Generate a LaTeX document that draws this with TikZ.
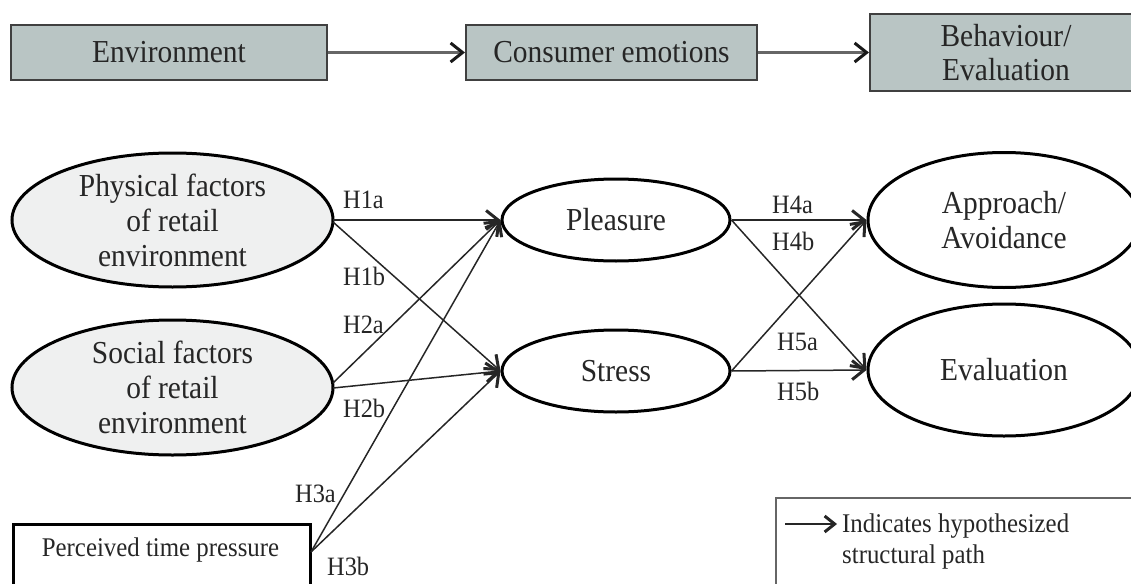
\documentclass[tikz,border=0pt]{standalone}
\usepackage{fontspec}
\setmainfont[FakeStretch=0.92]{Liberation Serif}
\usetikzlibrary{shapes.geometric,arrows.meta}
\definecolor{topfill}{HTML}{B9C5C4}
\definecolor{ellfill}{HTML}{EFF0F0}
\definecolor{txt}{HTML}{262626}
\begin{document}
\begin{tikzpicture}[x=1pt,y=-1pt,
  every node/.style={text=txt},
  topbox/.style={draw=black!75, line width=2pt, fill=topfill, rectangle, inner sep=0pt,
     font=\fontsize{32}{34}\selectfont, align=center},
  factor/.style={ellipse, draw=black, line width=3pt, inner sep=0pt,
     font=\fontsize{32}{35}\selectfont, align=center},
  hlab/.style={anchor=base west, inner sep=0pt, font=\fontsize{26.5}{29}\selectfont},
  path/.style={draw=black!85, line width=1.5pt, -{Straight Barb[length=12pt,width=19pt,line width=3pt]}},
  toparrow/.style={draw=black!60, line width=2.2pt, -{Straight Barb[length=12pt,width=19pt,line width=3pt,color=black!90]}}
]
\useasboundingbox (0,0) rectangle (1131,583);
\begin{scope}
\clip (0,0) rectangle (1131,583);
% top row
\node[topbox, minimum width=316pt, minimum height=55pt] (env) at (169,52.5) {Environment};
\node[topbox, minimum width=291pt, minimum height=55pt] (emo) at (611.5,52.5) {Consumer emotions};
\node[topbox, minimum width=272pt, minimum height=77pt] (beh) at (1006,52.5) {Behaviour/\\Evaluation};
\draw[toparrow] (env.east) -- (emo.west);
\draw[toparrow] (emo.east) -- (beh.west);

% ellipses
\node[factor, fill=ellfill, minimum width=321pt, minimum height=134pt] (phys) at (172.5,220) {Physical factors\\of retail\\environment};
\node[factor, fill=ellfill, minimum width=321pt, minimum height=135pt] (soc) at (172.5,387.5) {Social factors\\of retail\\environment};
\node[factor, fill=white, minimum width=228pt, minimum height=82pt] (pleas) at (616,220) {Pleasure};
\node[factor, fill=white, minimum width=228pt, minimum height=82pt] (stress) at (616,371) {Stress};
\node[factor, fill=white, minimum width=272pt, minimum height=135pt] (appr) at (1004,220) {Approach/\\Avoidance};
\node[factor, fill=white, minimum width=272pt, minimum height=132pt] (eval) at (1004,370) {Evaluation};

% time pressure box
\node[draw=black, line width=3pt, rectangle, inner sep=0pt, minimum width=297pt, minimum height=100pt, anchor=north west] (tp) at (12,523) {};
\node[inner sep=0pt, font=\fontsize{27}{30}\selectfont] (tptext) at (160.5,550) {Perceived time pressure};
\coordinate (tpc) at (311,552);

% paths
\draw[path] (333,220) -- (pleas.west);
\draw[path] (333,222) -- (stress.west);
\draw[path] (333,383) -- (pleas.west);
\draw[path] (333,388) -- (stress.west);
\draw[path] (tpc) -- (pleas.west);
\draw[path] (tpc) -- (stress.west);
\draw[path] (pleas.east) -- (appr.west);
\draw[path] (pleas.east) -- (eval.west);
\draw[path] (stress.east) -- (appr.west);
\draw[path] (stress.east) -- (eval.west);

% labels
\node[hlab] (h1a) at (343,208) {H1a};
\node[hlab] (h1b) at (343,285) {H1b};
\node[hlab] (h2a) at (343,333) {H2a};
\node[hlab] (h2b) at (343,417) {H2b};
\node[hlab] (h3a) at (295,502) {H3a};
\node[hlab] (h3b) at (327,575) {H3b};
\node[hlab] (h4a) at (772,213) {H4a};
\node[hlab] (h4b) at (772,250) {H4b};
\node[hlab] (h5a) at (777,350) {H5a};
\node[hlab] (h5b) at (777,400) {H5b};

% legend
\node[draw=black!60, line width=1.6pt, rectangle, inner sep=0pt, minimum width=370pt, minimum height=110pt, anchor=north west] (leg) at (775,497) {};
\coordinate (la) at (785,524);
\coordinate (lb) at (837,524);
\draw[draw=black!85, line width=1.5pt, -{Straight Barb[length=10pt,width=16pt,line width=3pt]}] (la) -- (lb);
\node[anchor=north west, inner sep=0pt, align=left, font=\fontsize{27}{31}\selectfont] (legtext) at (842,514) {Indicates hypothesized\\structural path};
\end{scope}
\end{tikzpicture}
\end{document}
